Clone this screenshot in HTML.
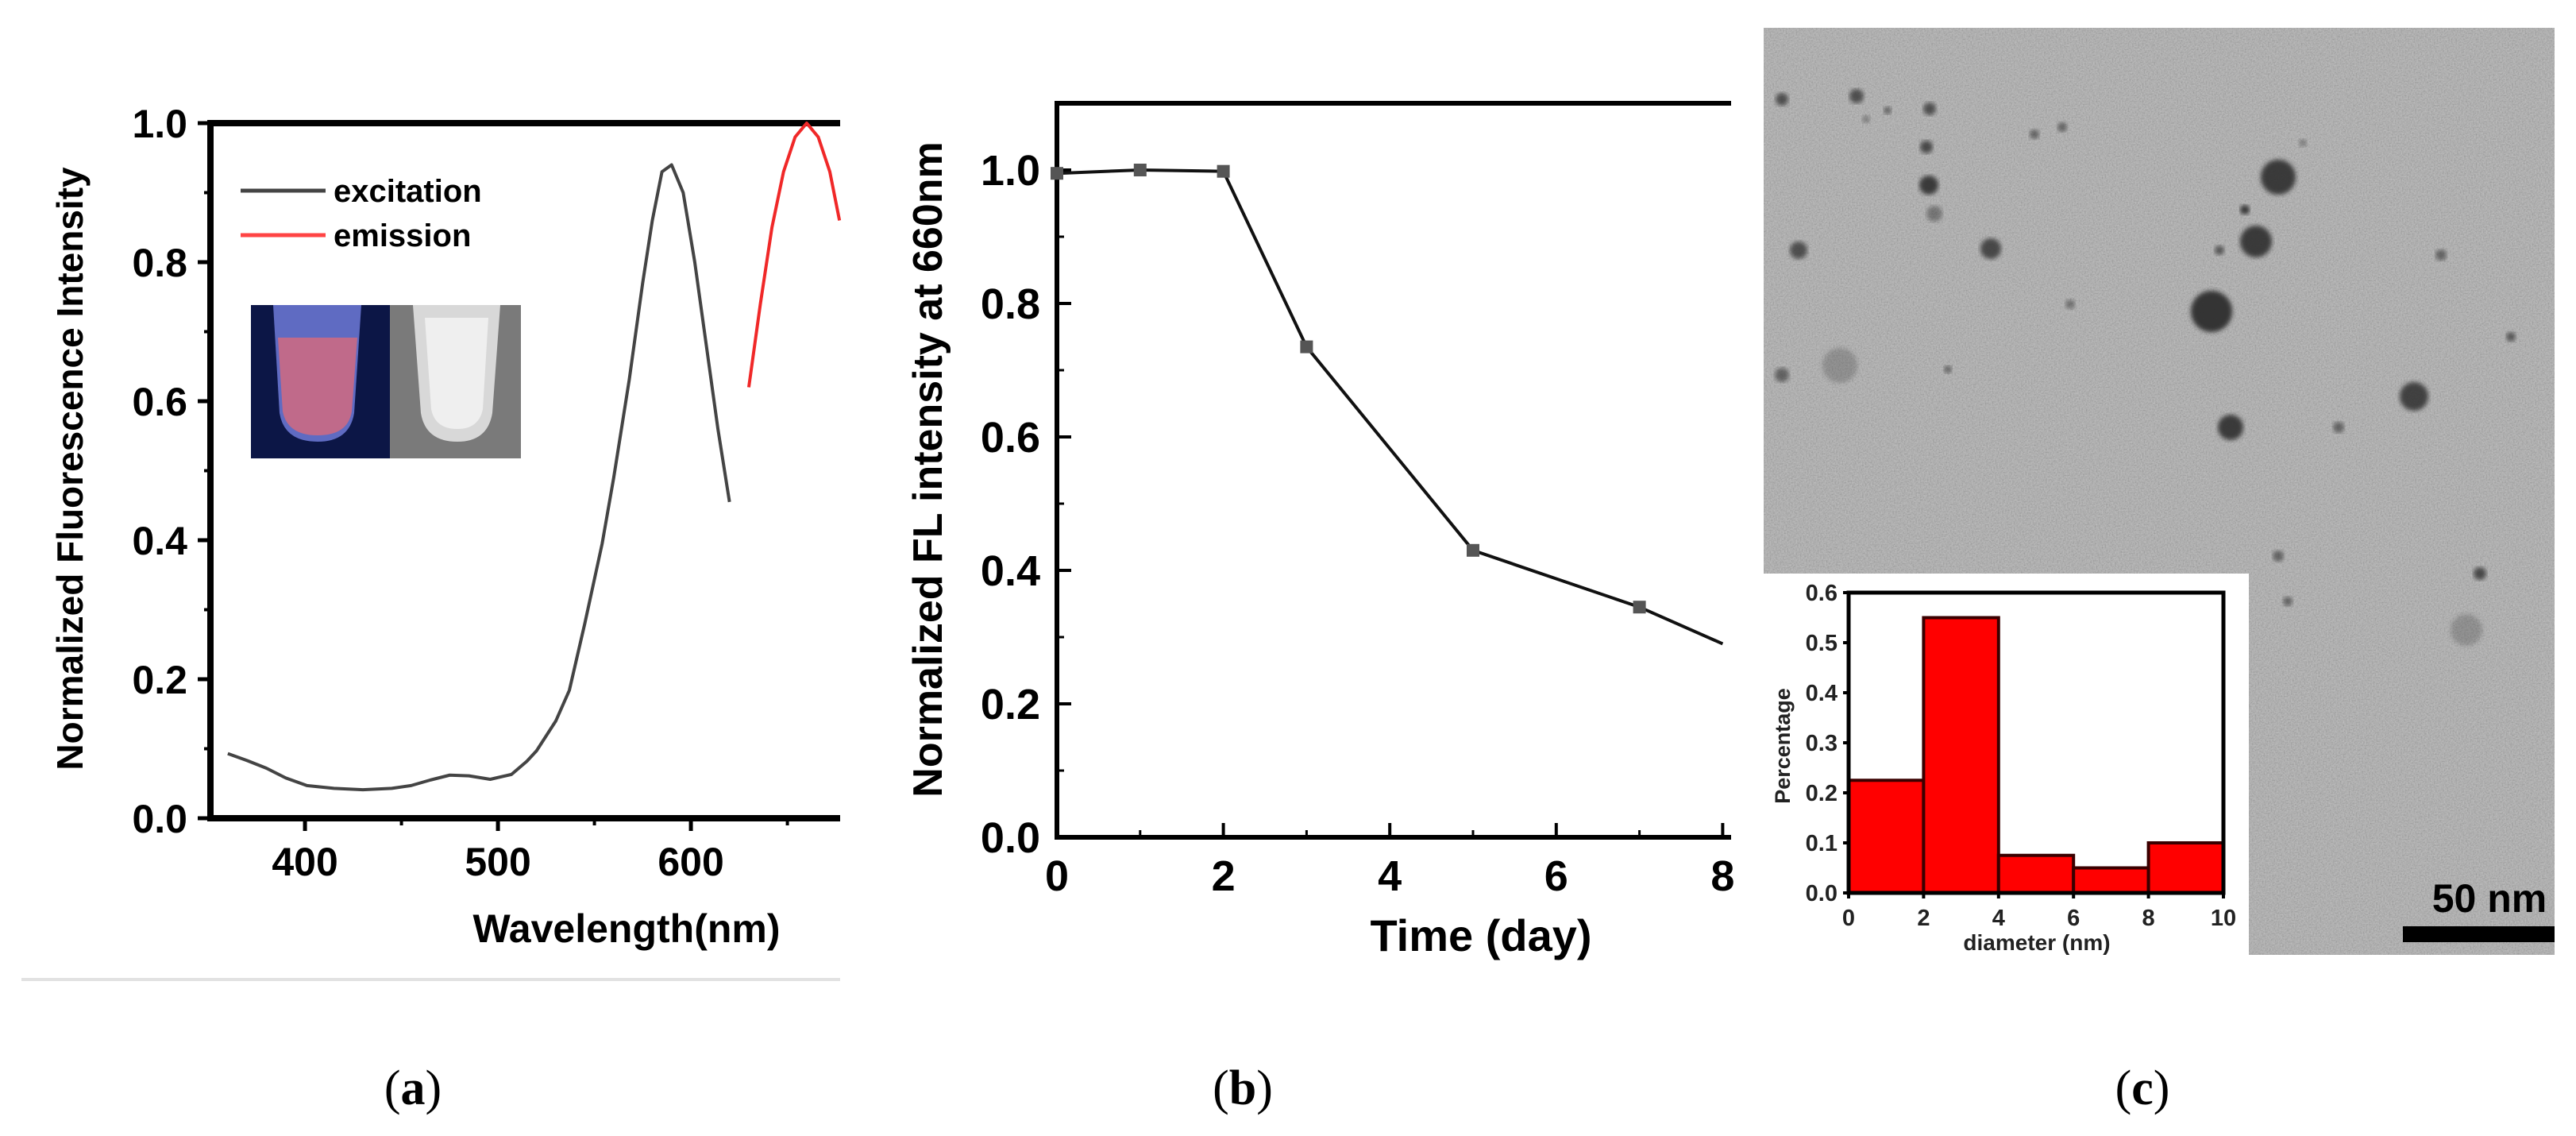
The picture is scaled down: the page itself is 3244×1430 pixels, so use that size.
<!DOCTYPE html>
<html><head><meta charset="utf-8">
<style>
html,body{margin:0;padding:0;background:#fff;}
svg{display:block;font-family:"Liberation Sans",Arial,sans-serif;}
</style></head>
<body>
<svg id="fig" width="3244" height="1430" viewBox="0 0 3244 1430" xmlns="http://www.w3.org/2000/svg">
<defs>
<filter id="noise" x="0" y="0" width="100%" height="100%">
<feTurbulence type="fractalNoise" baseFrequency="0.55" numOctaves="2" seed="4"/>
<feColorMatrix type="matrix" values="1 0 0 0 0  1 0 0 0 0  1 0 0 0 0  0 0 0 0 1" />
</filter>
<filter id="blur3"><feGaussianBlur stdDeviation="3"/></filter>
</defs>
<g id="panelA"></g>
<g id="panelB"></g>
<g id="panelC"></g>
<line x1="27" y1="1233" x2="1058" y2="1233" stroke="#e2e2e2" stroke-width="4"/>
<text x="520" y="1390" font-family="Liberation Serif,serif" font-size="62" text-anchor="middle">(<tspan font-weight="bold">a</tspan>)</text>
<text x="1565" y="1390" font-family="Liberation Serif,serif" font-size="62" text-anchor="middle">(<tspan font-weight="bold">b</tspan>)</text>
<text x="2698" y="1390" font-family="Liberation Serif,serif" font-size="62" text-anchor="middle">(<tspan font-weight="bold">c</tspan>)</text>
</svg>
<script>
// ---- Panel A data ----
const exWl = [360,370,380,390,401,415,430,445,455,465,475,485,496,507,515,520,530,537,545,554,560,568,575,580,585,590,596,602,608,614,620];
const exVal = [0.093,0.083,0.072,0.058,0.047,0.043,0.041,0.043,0.047,0.055,0.062,0.061,0.056,0.063,0.082,0.097,0.14,0.184,0.28,0.395,0.49,0.63,0.77,0.86,0.93,0.94,0.90,0.80,0.68,0.56,0.455];
const emWl = [630,636,642,648,654,660,666,672,677];
const emVal = [0.62,0.74,0.85,0.93,0.98,1.0,0.98,0.93,0.86];
const aYTicks = [0.0,0.2,0.4,0.6,0.8,1.0];
const aYLabels = ["0.0","0.2","0.4","0.6","0.8","1.0"];
const aXTicks = [400,500,600];
const aXLabels = ["400","500","600"];
// ---- Panel B data ----
const days = [0,1,2,3,5,7,8];
const flVal = [0.995,1.0,0.998,0.735,0.43,0.345,0.29];
const bYTicks = [0.0,0.2,0.4,0.6,0.8,1.0];
const bYLabels = ["0.0","0.2","0.4","0.6","0.8","1.0"];
const bXTicks = [0,2,4,6,8];
const bXLabels = ["0","2","4","6","8"];
// ---- Panel C histogram data ----
const binStart = [0,2,4,6,8];
const binPct = [0.225,0.55,0.075,0.05,0.1];
const cYTicks = [0,0.1,0.2,0.3,0.4,0.5,0.6];
const cYLabels = ["0.0","0.1","0.2","0.3","0.4","0.5","0.6"];
const cXTicks = [0,2,4,6,8,10];
const cXLabels = ["0","2","4","6","8","10"];

const NS="http://www.w3.org/2000/svg";
function mk(parent,tag,attrs,text){const e=document.createElementNS(NS,tag);for(const k in attrs)e.setAttribute(k,attrs[k]);if(text!==undefined)e.textContent=text;parent.appendChild(e);return e;}

// ===== Panel A =====
(function(){
const g=document.getElementById('panelA');
const x0=265,x1=1058,yb=1030,yt=155;
const xs=v=>x0+(v-351)*2.43;
const ys=v=>yb-v*875;
let e;
e=mk(g,'line',{x1:x0,y1:yt,x2:x1,y2:yt,stroke:'#000','stroke-width':8});


e=mk(g,'line',{x1:x0,y1:yt-4,x2:x0,y2:yb+4,stroke:'#000','stroke-width':8});


e=mk(g,'line',{x1:x0,y1:yb,x2:x1,y2:yb,stroke:'#000','stroke-width':8});


for(let v=0.1;v<1;v+=0.2){e=mk(g,'line',{x1:x0-8,y1:ys(v),x2:x0,y2:ys(v),stroke:'#000','stroke-width':4});

}
aYTicks.forEach((v,i)=>{e=mk(g,'line',{x1:x0-16,y1:ys(v),x2:x0,y2:ys(v),stroke:'#000','stroke-width':5});


e=mk(g,'text',{x:236,y:ys(v)+18,'font-size':50,'font-weight':'bold','text-anchor':'end'},aYLabels[i]);

});
[450,550,650].forEach(v=>{e=mk(g,'line',{x1:xs(v),y1:yb,x2:xs(v),y2:yb+9,stroke:'#000','stroke-width':4});

});
aXTicks.forEach((v,i)=>{e=mk(g,'line',{x1:xs(v),y1:yb,x2:xs(v),y2:yb+16,stroke:'#000','stroke-width':5});


e=mk(g,'text',{x:xs(v),y:1102,'font-size':50,'font-weight':'bold','text-anchor':'middle'},aXLabels[i]);

});
e=mk(g,'text',{x:789,y:1186,'font-size':50,'font-weight':'bold','text-anchor':'middle'},'Wavelength(nm)');


e=mk(g,'text',{x:0,y:0,'font-size':46,'font-weight':'bold','text-anchor':'middle',transform:'translate(104,590) rotate(-90)'},'Normalized Fluorescence Intensity');


e=mk(g,'polyline',{points:exWl.map((w,i)=>xs(w)+','+ys(exVal[i])).join(' '),fill:'none',stroke:'#444','stroke-width':4,'stroke-linejoin':'round'});


e=mk(g,'polyline',{points:emWl.map((w,i)=>xs(w)+','+ys(emVal[i])).join(' '),fill:'none',stroke:'#f02828','stroke-width':4,'stroke-linejoin':'round'});


// legend
e=mk(g,'line',{x1:303,y1:240,x2:410,y2:240,stroke:'#444','stroke-width':5});


e=mk(g,'text',{x:420,y:254,'font-size':40,'font-weight':'bold'},'excitation');


e=mk(g,'line',{x1:303,y1:296,x2:410,y2:296,stroke:'#f44','stroke-width':5});


e=mk(g,'text',{x:420,y:310,'font-size':40,'font-weight':'bold'},'emission');


// photo inset
const p=mk(g,'g',{});


mk(p,'rect',{x:316,y:384,width:175,height:193,fill:'#0c1646'});
mk(p,'rect',{x:491,y:384,width:165,height:193,fill:'#7a7a7a'});
mk(p,'path',{d:'M344 384 L455 384 L446 520 Q440 556 400 556 Q358 556 352 520 Z',fill:'#6e7ad8',opacity:0.85});
mk(p,'path',{d:'M350 425 L450 425 L443 518 Q438 548 400 548 Q362 548 356 518 Z',fill:'#c06a8a'});
mk(p,'path',{d:'M520 384 L630 384 L620 520 Q614 556 576 556 Q536 556 530 520 Z',fill:'#d8d8d8'});
mk(p,'path',{d:'M535 400 L615 400 L608 515 Q603 540 576 540 Q548 540 543 515 Z',fill:'#efefef'});
})();

// ===== Panel B =====
(function(){
const g=document.getElementById('panelB');
const x0=1331,yb=1054,xr=2180;
const xs=v=>x0+v*104.8;
const ys=v=>yb-v*840;
const yt=ys(1.1);
let e;
e=mk(g,'line',{x1:x0,y1:yt,x2:xr,y2:yt,stroke:'#000','stroke-width':6});


e=mk(g,'line',{x1:x0,y1:yt-3,x2:x0,y2:yb+3,stroke:'#000','stroke-width':6});


e=mk(g,'line',{x1:x0,y1:yb,x2:xr,y2:yb,stroke:'#000','stroke-width':6});


for(let v=0.1;v<1.1;v+=0.2){e=mk(g,'line',{x1:x0,y1:ys(v),x2:x0+9,y2:ys(v),stroke:'#000','stroke-width':3});

}
bYTicks.forEach((v,i)=>{e=mk(g,'line',{x1:x0,y1:ys(v),x2:x0+18,y2:ys(v),stroke:'#000','stroke-width':4});


e=mk(g,'text',{x:1310,y:ys(v)+19,'font-size':54,'font-weight':'bold','text-anchor':'end'},bYLabels[i]);

});
[1,3,5,7].forEach(v=>{e=mk(g,'line',{x1:xs(v),y1:yb,x2:xs(v),y2:yb-9,stroke:'#000','stroke-width':3});

});
bXTicks.forEach((v,i)=>{e=mk(g,'line',{x1:xs(v),y1:yb,x2:xs(v),y2:yb-18,stroke:'#000','stroke-width':4});


e=mk(g,'text',{x:xs(v),y:1121,'font-size':54,'font-weight':'bold','text-anchor':'middle'},bXLabels[i]);

});
e=mk(g,'text',{x:1865,y:1197,'font-size':56,'font-weight':'bold','text-anchor':'middle'},'Time (day)');


e=mk(g,'text',{x:0,y:0,'font-size':52,'font-weight':'bold','text-anchor':'middle',transform:'translate(1186,591) rotate(-90)'},'Normalized FL intensity at 660nm');


e=mk(g,'polyline',{points:days.map((d,i)=>xs(d)+','+ys(flVal[i])).join(' '),fill:'none',stroke:'#111','stroke-width':4});


days.forEach((d,i)=>{if(d===8)return;e=mk(g,'rect',{x:xs(d)-8,y:ys(flVal[i])-8,width:16,height:16,fill:'#555'});

});
})();

// ===== Panel C =====
const blobX=[2244,2338,2377,2430,2426,2429,2436,2265,2507,2562,2597,2869,2827,2841,2795,2785,2809,3040,3074,3162,2945,2244,2317,2453,2607,2869,2881,3123,3106,2900,2350];
const blobY=[125,121,139,137,185,233,269,315,313,169,160,223,264,304,315,392,538,499,321,424,538,472,460,465,383,700,757,722,793,180,150];
const blobR=[8,9,5,8,8,12,10,11,13,6,6,22,6,20,6,26,16,18,7,6,7,9,22,5,6,7,6,8,20,5,5];
const blobA=[0.75,0.75,0.6,0.75,0.8,0.9,0.45,0.75,0.8,0.6,0.6,0.9,0.95,0.9,0.7,0.95,0.9,0.85,0.6,0.7,0.6,0.6,0.25,0.6,0.5,0.6,0.6,0.8,0.25,0.4,0.4];
(function(){
const g=document.getElementById('panelC');
let e;
e=mk(g,'rect',{x:2221,y:35,width:996,height:1167,fill:'#ababab'});


e=mk(g,'rect',{x:2221,y:35,width:996,height:1167,fill:'#888',filter:'url(#noise)',opacity:0.28});


blobX.forEach((x,i)=>{e=mk(g,'circle',{cx:x,cy:blobY[i],r:blobR[i],fill:'#2e2e2e',opacity:blobA[i],filter:'url(#blur3)'});

});
e=mk(g,'rect',{x:3026,y:1166,width:191,height:20,fill:'#000'});


e=mk(g,'text',{x:3135,y:1148,'font-size':50,'font-weight':'bold','text-anchor':'middle'},'50 nm');


// histogram inset
const h=mk(g,'g',{});


e=mk(h,'rect',{x:2221,y:722,width:611,height:480,fill:'#fff'});


const x0=2328,x1=2800,yb=1124,yt=746;
const xs=v=>x0+v*(x1-x0)/10;
const ys=v=>yb-v*(yb-yt)/0.6;
binStart.forEach((b,i)=>{e=mk(h,'rect',{x:xs(b),y:ys(binPct[i]),width:xs(b+2)-xs(b),height:yb-ys(binPct[i]),fill:'#ff0000',stroke:'#3a0000','stroke-width':4});

});
e=mk(h,'rect',{x:x0,y:yt,width:x1-x0,height:yb-yt,fill:'none',stroke:'#000','stroke-width':5});


cYTicks.forEach((v,i)=>{e=mk(h,'line',{x1:x0-7,y1:ys(v),x2:x0,y2:ys(v),stroke:'#000','stroke-width':4});


e=mk(h,'text',{x:2314,y:ys(v)+10,'font-size':29,'font-weight':'bold','text-anchor':'end',fill:'#222'},cYLabels[i]);

});
cXTicks.forEach((v,i)=>{e=mk(h,'line',{x1:xs(v),y1:yb,x2:xs(v),y2:yb+7,stroke:'#000','stroke-width':4});


e=mk(h,'text',{x:xs(v),y:1165,'font-size':29,'font-weight':'bold','text-anchor':'middle',fill:'#222'},cXLabels[i]);

});
e=mk(h,'text',{x:2565,y:1196,'font-size':28,'font-weight':'bold','text-anchor':'middle',fill:'#222'},'diameter (nm)');


e=mk(h,'text',{x:0,y:0,'font-size':27,'font-weight':'bold','text-anchor':'middle',fill:'#222',transform:'translate(2254,939) rotate(-90)'},'Percentage');


})();
</script>
</body></html>
